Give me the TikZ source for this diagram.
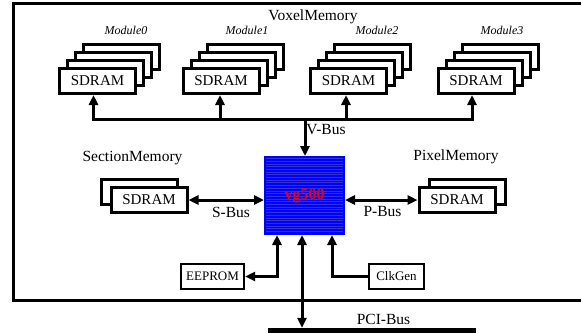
\documentclass[tikz,border=0pt]{standalone}
\usepackage{fontspec}
\setmainfont{Liberation Serif}
\usetikzlibrary{arrows.meta}
\definecolor{chipblue}{RGB}{0,0,255}
\definecolor{hatchblue}{RGB}{50,50,215}
\definecolor{vgred}{RGB}{240,0,0}
\newcommand\mstack[3]{%
  \node[box] (#1c) at (#2+24,#3-24) {};
  \node[box] (#1b) at (#2+16,#3-16) {};
  \node[box] (#1a) at (#2+8,#3-8) {};
  \node[box] (#1) at (#2,#3) {SDRAM};}
\begin{document}
\begin{tikzpicture}[x=1pt,y=-1pt,
  box/.style={draw,line width=3pt,fill=white,minimum width=76pt,minimum height=25pt,inner sep=0pt,font=\fontsize{15}{18}\selectfont},
  smallbox/.style={draw,line width=2.2pt,fill=white,inner sep=0pt,minimum height=25pt,font=\fontsize{13}{15}\selectfont},
  lbl/.style={inner sep=0pt,font=\fontsize{15.5}{18}\selectfont},
  mlbl/.style={inner sep=0pt,font=\fontsize{12}{14}\selectfont\itshape},
  arr/.style={line width=3pt,-{Triangle[width=9pt,length=10pt]}},
  arrboth/.style={line width=3pt,{Triangle[width=9pt,length=10pt]}-{Triangle[width=9pt,length=10pt]}},
  chipst/.style={draw=chipblue,line width=2pt,fill=chipblue,minimum width=79pt,minimum height=77pt,inner sep=0pt,
    path picture={\foreach \i in {1,...,29}{\draw[hatchblue,line width=0.5pt]
      ([yshift=\i*2.7pt]path picture bounding box.south west) -- ([yshift=\i*2.7pt]path picture bounding box.south east);}}}
]
\clip (0,0) rectangle (581,333);
\fill[white] (0,0) rectangle (581,333);
% outer frame
\draw[line width=3pt] (590,3) -- (13,3) -- (13,300) -- (590,300);
\node[lbl] (vox) at (313,17) {VoxelMemory};
% modules
\mstack{m0}{97.5}{81}
\mstack{m1}{221}{81}
\mstack{m2}{348.5}{81}
\mstack{m3}{476}{81}
\node[mlbl] (l0) at (126,30) {Module0};
\node[mlbl] (l1) at (247,30) {Module1};
\node[mlbl] (l2) at (377,30) {Module2};
\node[mlbl] (l3) at (502,30) {Module3};
% chip
\node[chipst,text=vgred,font=\fontsize{16}{18}\selectfont\bfseries] (chip) at (304.5,195.5) {vg500};
% V-Bus
\coordinate (vb) at (305,119);
\draw[arr] (vb) -| ([xshift=-4pt]m0.south);
\draw[arr] (vb) -| ([xshift=-1pt]m1.south);
\draw[arr] (vb) -| ([xshift=-2.5pt]m2.south);
\draw[arr] (vb) -| ([xshift=-4pt]m3.south);
\draw[arr] (vb) -- (chip.north -| vb);
\node[lbl] (vbl) at (326,130) {V-Bus};
% Section memory
\node[lbl] (secl) at (132.5,158) {SectionMemory};
\node[box] (secb) at (139,192) {};
\node[box] (sec) at (149,200) {SDRAM};
\draw[arrboth] (sec.east) -- (chip.west |- sec.east);
\node[lbl] (sbl) at (231,212) {S-Bus};
% Pixel memory
\node[lbl] (pixl) at (456,157) {PixelMemory};
\node[box] (pixb) at (467,192) {};
\node[box] (pix) at (457,200) {SDRAM};
\draw[arrboth] (chip.east |- pix.west) -- (pix.west);
\node[lbl] (pbl) at (382.5,211) {P-Bus};
% bottom
\node[smallbox,minimum width=63pt] (eeprom) at (212.5,276.5) {EEPROM};
\node[smallbox,minimum width=55pt] (clk) at (396.5,276.5) {ClkGen};
\draw[arrboth] (eeprom.east) -| ([xshift=-27.5pt]chip.south);
\draw[arr] (clk.west) -| ([xshift=27.5pt]chip.south);
\node[fill=black,minimum width=208pt,minimum height=5pt,inner sep=0pt] (pcibar) at (372,330.5) {};
\draw[arrboth] ([xshift=-2.5pt]chip.south) -- ([xshift=-2.5pt]chip.south |- pcibar.north);
\node[lbl] (pcil) at (383.5,319) {PCI-Bus};
\end{tikzpicture}
\end{document}
